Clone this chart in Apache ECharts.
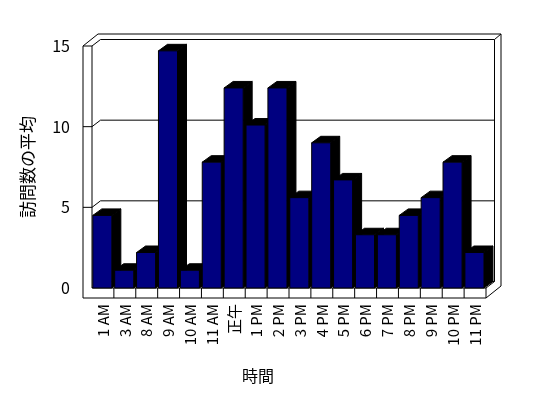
<!DOCTYPE html>
<html lang="ja">
<head>
    <meta charset="UTF-8">
    <title>訪問数の平均</title>
    <script src="https://cdn.jsdelivr.net/npm/echarts@6/dist/echarts.min.js"></script>
    <style>
        html, body { margin: 0; padding: 0; background: #fff; }
        #main { width: 548px; height: 398px; }
    </style>
</head>
<body>
<div id="main"></div>
<script>
    // データ
    var hours = ['1 AM', '3 AM', '8 AM', '9 AM', '10 AM', '11 AM', '正午', '1 PM', '2 PM', '3 PM',
        '4 PM', '5 PM', '6 PM', '7 PM', '8 PM', '9 PM', '10 PM', '11 PM'];
    var visits = [4.5, 1.1, 2.2, 14.7, 1.1, 7.8, 12.4, 10.1, 12.4, 5.6,
        9.0, 6.7, 3.3, 3.3, 4.5, 5.6, 7.8, 2.2];
    var yTicks = [0, 5, 10, 15];

    var FONT = '"Noto Sans CJK JP", sans-serif';
    var DX = 8.5, DY = -6.5;   // 奥行き
    var barDX = 9, barDY = -6.5;

    var myChart = echarts.init(document.getElementById('main'));

    // 枠（壁と床）
    function renderFrame(params, api) {
        var cs = params.coordSys;
        var x0 = cs.x, y0 = cs.y, x1 = cs.x + cs.width, y1 = cs.y + cs.height;
        var ln = {stroke: '#000', lineWidth: 1, fill: null};
        var kids = [];
        function seg(a, b, c, d) {
            kids.push({type: 'line', shape: {x1: a, y1: b, x2: c, y2: d}, style: ln});
        }
        // 外枠
        kids.push({
            type: 'polygon',
            shape: {points: [[x0 - 9, y1 + 10], [x0 - 9, y0], [x0 + 6, y0 - 12], [x1 + 15, y0 - 12],
                [x1 + 15, y1 - 2], [x1, y1 + 10]]},
            style: {stroke: '#000', lineWidth: 1, fill: '#fff'}
        });
        seg(x0, y0, x0, y1);
        seg(x0 - 9, y0, x0, y0);
        seg(x0, y0, x0 + DX, y0 + DY);
        seg(x0 + DX, y0 + DY, x1 + DX, y0 + DY);
        seg(x1 + DX, y0 + DY, x1 + DX, y1 + DY);
        seg(x1 + DX, y0 + DY, x1 + 15, y0 - 12);
        seg(x0, y1, x1, y1);
        seg(x1, y1, x1 + DX, y1 + DY);
        seg(x1, y1, x1, y1 + 10);
        seg(x0, y1, x0 + DX, y1 + DY);
        seg(x0 + DX, y1 + DY, x1 + DX, y1 + DY);
        // 目盛線
        yTicks.forEach(function (v) {
            if (v === 0 || v === 15) return;
            var y = api.coord([0, v])[1];
            seg(x0 - 9, y, x0, y);
            seg(x0, y, x0 + DX, y + DY);
            seg(x0 + DX, y + DY, x1 + DX, y + DY);
        });
        // 項目の区切り
        var bw = cs.width / hours.length;
        for (var i = 1; i < hours.length; i++) {
            var xb = x0 + bw * i;
            seg(xb, y1, xb, y1 + 10);
        }
        return {type: 'group', children: kids};
    }

    // 3D 棒
    function renderBar(params, api) {
        var idx = api.value(0);
        var base = api.coord([idx, 0]);
        var top = api.coord([idx, api.value(1)]);
        var bw = api.size([1, 0])[0];
        var left = base[0] - bw / 2 + 0.8;
        var w = bw * 0.87;
        var right = left + w;
        return {
            type: 'group',
            children: [
                {
                    type: 'polygon',
                    shape: {points: [[right, top[1]], [right + barDX, top[1] + barDY],
                        [right + barDX, base[1] + barDY], [right, base[1]]]},
                    style: {fill: '#000', stroke: '#000', lineWidth: 1}
                },
                {
                    type: 'polygon',
                    shape: {points: [[left, top[1]], [left + barDX, top[1] + barDY],
                        [right + barDX, top[1] + barDY], [right, top[1]]]},
                    style: {fill: '#000', stroke: '#000', lineWidth: 1}
                },
                {
                    type: 'rect',
                    shape: {x: left, y: top[1], width: w, height: base[1] - top[1]},
                    style: {fill: '#000080', stroke: '#000', lineWidth: 1}
                }
            ]
        };
    }

    var option = {
        animation: false,
        backgroundColor: '#fff',
        grid: {left: 92, top: 46, width: 394, height: 242},
        xAxis: {
            type: 'category',
            data: hours,
            name: '時間',
            nameLocation: 'middle',
            nameGap: 80,
            nameTextStyle: {fontFamily: FONT, fontSize: 16, color: '#000', padding: [0, 62, 0, 0]},
            axisLine: {show: false},
            axisTick: {show: false},
            axisLabel: {
                rotate: 90, interval: 0, margin: 16,
                fontFamily: FONT, fontSize: 15, color: '#000'
            }
        },
        yAxis: {
            type: 'value',
            min: 0, max: 15, interval: 5,
            name: '訪問数の平均',
            nameLocation: 'middle',
            nameGap: 56,
            nameTextStyle: {fontFamily: FONT, fontSize: 17, color: '#000'},
            axisLine: {show: false},
            axisTick: {show: false},
            splitLine: {show: false},
            axisLabel: {margin: 22, fontFamily: FONT, fontSize: 16, color: '#000'}
        },
        series: [
            {
                type: 'custom',
                name: 'frame',
                renderItem: renderFrame,
                data: [[0, 0]],
                z: 1,
                silent: true
            },
            {
                type: 'custom',
                name: '訪問数の平均',
                renderItem: renderBar,
                encode: {x: 0, y: 1},
                data: visits.map(function (v, i) { return [i, v]; }),
                z: 2
            }
        ]
    };

    myChart.setOption(option);
</script>
</body>
</html>
